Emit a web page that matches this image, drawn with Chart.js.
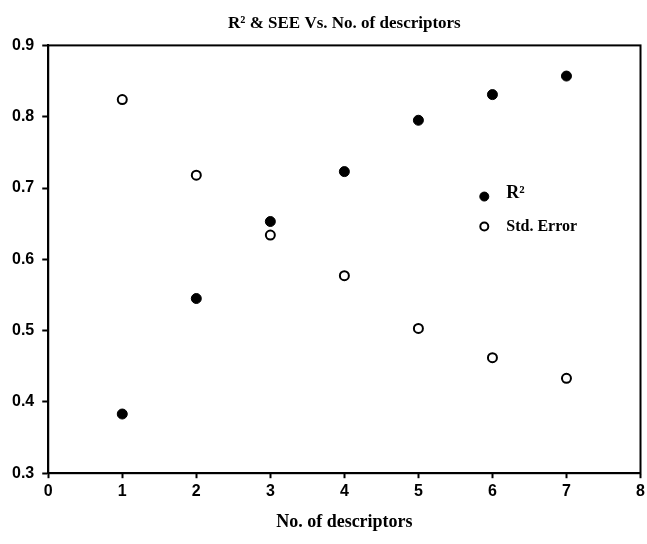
<!DOCTYPE html>
<html>
<head>
<meta charset="utf-8">
<script src="https://cdn.jsdelivr.net/npm/chart.js@4/dist/chart.umd.min.js"></script>
<style>
  html, body { margin: 0; padding: 0; background: #fff; }
  #wrap { width: 647px; height: 544px; }
</style>
</head>
<body>
<div id="wrap"><canvas id="grafico"></canvas></div>
<script>
const descriptores = [1, 2, 3, 4, 5, 6, 7];
const valoresR2 = [0.383, 0.545, 0.653, 0.723, 0.795, 0.831, 0.857];
const valoresSE = [0.824, 0.718, 0.634, 0.577, 0.503, 0.462, 0.433];
const etiquetasX = ["0", "1", "2", "3", "4", "5", "6", "7", "8"];
const etiquetasY = ["0.3", "0.4", "0.5", "0.6", "0.7", "0.8", "0.9"];

const serif = "'Liberation Serif', 'DejaVu Serif', serif";
const sans = "'Liberation Sans', Arial, sans-serif";

// caja alrededor del area del grafico
const marco = {
  id: "marco",
  afterDraw(chart) {
    const { ctx, chartArea: a } = chart;
    ctx.save();
    ctx.strokeStyle = "#000";
    ctx.lineWidth = 2;
    ctx.strokeRect(a.left, a.top, a.right - a.left, a.bottom - a.top);
    ctx.restore();
  }
};

// leyenda dentro del area, como en la figura
const leyenda = {
  id: "leyenda",
  afterDraw(chart) {
    const { ctx, scales } = chart;
    const x0 = scales.x.getPixelForValue(5.89);
    const filas = [scales.y.getPixelForValue(0.688), scales.y.getPixelForValue(0.646)];
    ctx.save();
    chart.data.datasets.forEach((ds, i) => {
      const y = filas[i];
      ctx.beginPath();
      ctx.arc(x0, y, ds.pointRadius - 0.5, 0, Math.PI * 2);
      ctx.fillStyle = ds.backgroundColor;
      ctx.fill();
      ctx.lineWidth = ds.borderWidth;
      ctx.strokeStyle = "#000";
      ctx.stroke();
      ctx.fillStyle = "#000";
      ctx.font = "bold " + (i === 0 ? 18 : 16) + "px " + serif;
      ctx.textBaseline = "middle";
      ctx.fillText(ds.label, x0 + 22, y + (i === 0 ? -3 : 0));
    });
    ctx.restore();
  }
};

new Chart(document.getElementById("grafico"), {
  type: "scatter",
  data: {
    datasets: [
      {
        label: "R²",
        data: descriptores.map((d, i) => ({ x: d, y: valoresR2[i] })),
        backgroundColor: "#000",
        borderColor: "#000",
        borderWidth: 1,
        pointRadius: 5
      },
      {
        label: "Std. Error",
        data: descriptores.map((d, i) => ({ x: d, y: valoresSE[i] })),
        backgroundColor: "#fff",
        borderColor: "#000",
        borderWidth: 2,
        pointRadius: 4.5
      }
    ]
  },
  options: {
    responsive: true,
    maintainAspectRatio: false,
    animation: false,
    layout: { padding: { left: 4, right: 0, top: 9, bottom: 11 } },
    plugins: {
      legend: { display: false },
      tooltip: { enabled: false },
      title: {
        display: true,
        fullSize: false,
        text: "R² & SEE Vs. No. of descriptors",
        color: "#000",
        font: { family: serif, size: 17, weight: "bold" },
        padding: { top: 4, bottom: 12 }
      }
    },
    scales: {
      x: {
        type: "linear",
        min: 0,
        max: 8,
        afterBuildTicks: s => { s.ticks = etiquetasX.map(v => ({ value: Number(v) })); },
        afterFit: s => { s.paddingRight = 0; },
        ticks: {
          color: "#000",
          font: { family: sans, size: 16, weight: "bold" },
          padding: 4,
          maxRotation: 0,
          callback: v => etiquetasX[v]
        },
        grid: { drawOnChartArea: false, tickLength: 5, tickColor: "#000", tickWidth: 2 },
        border: { color: "#000", width: 2 },
        title: {
          display: true,
          text: "No. of descriptors",
          color: "#000",
          font: { family: serif, size: 18, weight: "bold" },
          padding: { top: 6, bottom: 0 }
        }
      },
      y: {
        min: 0.3,
        max: 0.9,
        afterBuildTicks: s => { s.ticks = etiquetasY.map(v => ({ value: Number(v) })); },
        ticks: {
          color: "#000",
          font: { family: sans, size: 16, weight: "bold" },
          padding: 8,
          callback: (v, i) => etiquetasY[i]
        },
        grid: { drawOnChartArea: false, tickLength: 6, tickColor: "#000", tickWidth: 2 },
        border: { color: "#000", width: 2 }
      }
    }
  },
  plugins: [marco, leyenda]
});
</script>
</body>
</html>
